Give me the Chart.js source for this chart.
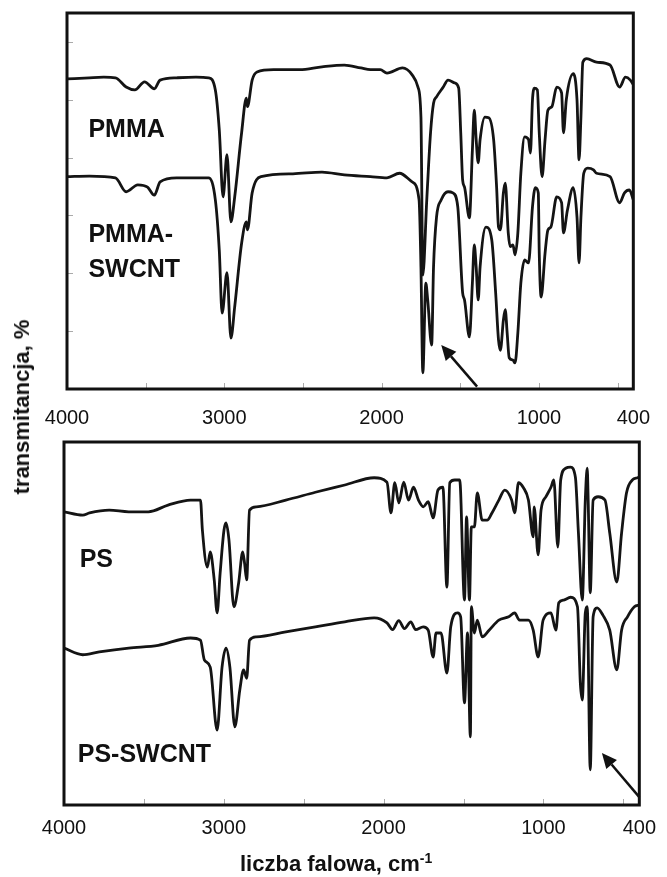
<!DOCTYPE html>
<html>
<head>
<meta charset="utf-8">
<script src="https://cdn.jsdelivr.net/npm/chart.js@4"></script>
<style>
  body { margin: 0; background: #fff; width: 667px; height: 877px; position: relative; overflow: hidden;
         font-family: "Liberation Sans", Arial, sans-serif; color: #111; }
  #top { position: absolute; left: 0; top: 0; }
  #bottom { position: absolute; left: 0; top: 436px; }
  #ytitle { position: absolute; left: 22px; top: 407px; transform: translate(-50%, -50%) rotate(-90deg);
            font-weight: bold; font-size: 22px; white-space: nowrap; }
  #xtitle { position: absolute; left: 240px; top: 850px; font-weight: bold; font-size: 22px; white-space: nowrap; }
  #xtitle sup { font-size: 14px; }
</style>
</head>
<body>
<canvas id="top" width="667" height="436"></canvas>
<canvas id="bottom" width="667" height="441"></canvas>
<div id="ytitle">transmitancja, %</div>
<div id="xtitle">liczba falowa, cm<sup>-1</sup></div>
<script>
// x axis: wavenumber, cm-1 (reversed)
const xLabels = [4000, 3000, 2000, 1000, 400];
const xMinor = [3500, 3000, 2500, 2000, 1500, 1000, 500];
const yMinorTop = [10, 20, 30, 40, 50, 60];

// PMMA (top panel, upper trace)
const pmmaWn = [4000,3858,3766,3692,3624,3569,3507,3445,3408,3303,3180,3100,3057,3032,3008,2983,2958,2934,2890,2860,2853,2823,2792,2687,2521,2379,2237,2132,2071,2009,1966,1867,1806,1769,1750,1738,1713,1689,1670,1651,1608,1578,1534,1510,1497,1485,1473,1442,1423,1411,1399,1386,1374,1343,1319,1288,1269,1257,1245,1226,1214,1195,1183,1165,1152,1134,1115,1091,1066,1054,1041,1029,1010,998,980,961,943,918,887,856,844,826,782,758,745,733,721,696,634,548,487,450,419,400];
const pmmaT = [53.6,53.8,53.9,53.8,52.2,51.7,53.1,51.9,53.4,53.8,53.9,53.8,51.7,44.8,33.2,40.5,28.9,33.2,44.3,50.3,48.8,53.4,54.8,55.2,55.2,55.7,56.0,55.5,55.2,55.2,54.6,55.5,54.3,52.2,47.0,19.7,32.7,44.3,49.4,50.5,52.2,53.4,52.9,52.0,44.3,36.1,34.9,29.6,41.3,48.2,43.1,39.1,43.1,47.0,46.9,43.1,34.9,28.0,27.5,33.9,35.6,27.0,24.6,24.9,23.2,27.0,37.3,43.6,43.1,40.8,50.0,52.0,51.7,44.3,36.7,43.1,48.2,48.8,52.2,51.2,44.3,50.0,54.5,50.0,39.6,47.0,56.5,57.1,56.5,56.0,52.2,53.9,53.4,52.6];

// PMMA-SWCNT (top panel, lower trace)
const pmmaCntWn = [4000,3858,3692,3624,3550,3488,3445,3408,3303,3100,3057,3032,3014,2983,2958,2934,2890,2860,2853,2823,2767,2564,2379,2237,2071,1966,1886,1806,1762,1750,1738,1719,1707,1682,1670,1651,1621,1578,1547,1516,1485,1473,1442,1423,1411,1399,1386,1374,1337,1300,1275,1257,1245,1226,1214,1202,1189,1165,1152,1134,1115,1091,1066,1041,1023,1004,998,986,961,943,924,887,856,844,819,782,758,745,733,715,690,653,634,548,487,456,425,400];
const pmmaCntT = [36.7,36.8,36.5,34.1,35.3,34.9,33.5,35.8,36.5,36.5,32.7,24.0,13.1,20.1,8.8,14.2,25.2,28.9,27.5,33.9,36.7,37.2,37.5,37.0,36.7,36.5,37.3,35.8,32.7,21.1,2.8,18.3,15.4,7.6,21.1,29.7,32.7,34.1,33.9,31.5,16.6,15.4,9.0,18.3,24.9,21.1,15.4,21.1,28.0,25.8,16.6,8.5,6.7,11.9,13.7,9.7,5.4,5.0,4.5,9.7,18.3,22.3,21.8,31.5,34.8,33.9,23.5,15.9,23.5,27.5,28.0,33.2,32.2,27.0,30.9,34.8,29.7,21.8,29.7,37.3,38.2,37.9,37.3,36.7,32.2,33.9,34.4,32.7];

// PS (bottom panel, upper trace)
const psWn = [4000,3883,3840,3717,3595,3472,3349,3208,3146,3134,3103,3085,3060,3042,3023,2999,2986,2968,2937,2907,2882,2870,2857,2839,2796,2612,2427,2243,2059,1979,1954,1930,1905,1874,1844,1813,1782,1752,1721,1690,1660,1629,1604,1586,1555,1524,1494,1481,1463,1451,1432,1414,1383,1352,1322,1279,1242,1199,1180,1156,1125,1094,1064,1058,1033,1015,984,953,935,910,892,861,830,800,781,757,738,726,720,707,689,658,615,585,541,511,480,443,412,400];
const psT = [52.5,51.9,52.3,52.8,52.5,52.5,53.7,54.6,54.6,49.2,42.6,45.3,40.3,34.4,41.5,49.2,50.5,47.5,35.5,39.8,45.3,43.3,40.3,52.8,53.4,54.6,56.0,57.3,58.6,57.8,52.3,57.7,54.1,57.8,54.6,56.9,54.6,53.4,54.3,51.4,56.4,56.9,39.0,57.7,58.2,58.2,36.7,51.6,36.7,49.8,49.8,55.9,51.0,51.0,52.3,54.6,56.4,54.6,52.3,57.7,56.8,54.6,48.0,53.4,44.8,52.8,55.2,56.9,58.2,46.2,58.2,60.3,60.5,58.7,48.7,36.7,54.6,60.3,54.6,38.0,54.6,55.2,54.6,48.7,39.9,48.7,55.9,58.2,58.6,58.7];

// PS-SWCNT (bottom panel, lower trace)
const psCntWn = [4000,3883,3779,3595,3410,3208,3146,3122,3085,3042,3011,2986,2962,2931,2900,2876,2857,2839,2796,2612,2427,2243,2059,1979,1944,1905,1870,1830,1800,1752,1721,1690,1672,1641,1604,1580,1537,1518,1494,1475,1457,1451,1432,1414,1383,1340,1279,1217,1180,1150,1094,1064,1033,1002,953,922,904,873,830,787,769,757,738,726,707,689,664,628,585,541,511,474,431,400];
const psCntT = [28.1,26.9,27.4,28.1,28.6,29.9,29.5,26.0,24.7,13.4,24.7,28.1,24.7,14.0,20.6,24.2,22.7,29.5,30.1,31.0,31.9,32.8,33.5,32.6,31.4,33.0,31.6,32.8,31.4,31.9,31.3,26.5,30.8,30.8,23.6,31.9,34.4,33.7,18.3,30.8,12.2,35.5,30.8,33.1,30.1,31.3,33.1,33.7,34.4,33.1,33.1,31.3,26.5,33.1,34.4,31.3,36.2,36.7,37.2,35.5,21.8,18.8,34.4,35.5,6.3,33.7,35.3,34.0,31.3,24.2,31.3,33.7,35.5,35.8];

// annotations in data units (wavenumber, transmittance)
const topLabels = [
  { text: 'PMMA', wn: 3864, t: 44.8 },
  { text: 'PMMA-', wn: 3864, t: 26.6 },
  { text: 'SWCNT', wn: 3864, t: 20.6 }
];
const bottomLabels = [
  { text: 'PS', wn: 3902, t: 43.9 },
  { text: 'PS-SWCNT', wn: 3914, t: 9.0 }
];
const topArrow = { from: [1393, 0.4], to: [1621, 7.6] };
const bottomArrow = { from: [400, 1.4], to: [634, 9.3] };

const FONT = '"Liberation Sans", Arial, sans-serif';

function pts(wn, t) {
  const n = Math.min(wn.length, t.length);
  const out = [];
  for (let i = 0; i < n; i++) out.push({ x: wn[i], y: t[i] });
  return out;
}

function arrow(ctx, x1, y1, x2, y2) {
  const ang = Math.atan2(y2 - y1, x2 - x1);
  const hl = 15, hw = 7;
  const bx = x2 - hl * Math.cos(ang), by = y2 - hl * Math.sin(ang);
  ctx.beginPath();
  ctx.moveTo(x1, y1);
  ctx.lineTo(bx, by);
  ctx.stroke();
  ctx.beginPath();
  ctx.moveTo(x2, y2);
  ctx.lineTo(bx + hw * Math.sin(ang), by - hw * Math.cos(ang));
  ctx.lineTo(bx - hw * Math.sin(ang), by + hw * Math.cos(ang));
  ctx.closePath();
  ctx.fill();
}

const panelDecor = {
  id: 'panelDecor',
  afterDatasetsDraw(chart, args, o) {
    const { ctx, chartArea: a, scales: { x, y } } = chart;
    ctx.save();
    ctx.strokeStyle = '#aaa';
    ctx.lineWidth = 1;
    o.minorX.forEach(v => {
      const px = Math.round(x.getPixelForValue(v)) + 0.5;
      ctx.beginPath(); ctx.moveTo(px, a.bottom); ctx.lineTo(px, a.bottom - 6); ctx.stroke();
    });
    o.minorY.forEach(v => {
      const py = Math.round(y.getPixelForValue(v)) + 0.5;
      ctx.beginPath(); ctx.moveTo(a.left, py); ctx.lineTo(a.left + 6, py); ctx.stroke();
    });
    ctx.strokeStyle = '#111';
    ctx.lineWidth = 3;
    ctx.strokeRect(a.left, a.top, a.right - a.left, a.bottom - a.top);
    ctx.fillStyle = '#111';
    ctx.font = 'bold 25px ' + FONT;
    ctx.textAlign = 'left';
    ctx.textBaseline = 'middle';
    o.labels.forEach(l => ctx.fillText(l.text, x.getPixelForValue(l.wn), y.getPixelForValue(l.t)));
    ctx.lineWidth = 2.5;
    const ar = o.arrow;
    arrow(ctx, x.getPixelForValue(ar.from[0]), y.getPixelForValue(ar.from[1]),
               x.getPixelForValue(ar.to[0]), y.getPixelForValue(ar.to[1]));
    ctx.restore();
  }
};

function panel(id, series, pad, tickPad, deco) {
  return new Chart(document.getElementById(id), {
    type: 'line',
    data: {
      datasets: series.map(s => ({
        data: pts(s[0], s[1]),
        borderColor: '#141414',
        borderWidth: 2.8,
        pointRadius: 0,
        cubicInterpolationMode: 'monotone',
        fill: false
      }))
    },
    options: {
      responsive: false,
      animation: false,
      events: [],
      layout: { padding: pad },
      plugins: { legend: { display: false }, tooltip: { enabled: false }, panelDecor: deco },
      scales: {
        x: {
          type: 'linear', reverse: true, min: 400, max: 4000,
          grid: { display: false, drawTicks: false },
          border: { display: false },
          afterBuildTicks: s => { s.ticks = xLabels.map(v => ({ value: v })); },
          afterFit: s => { s.height = 40; },
          ticks: {
            color: '#111', padding: tickPad, maxRotation: 0, autoSkip: false,
            font: { size: 20, family: FONT },
            callback: v => String(v)
          }
        },
        y: { type: 'linear', min: 0, max: 65, display: false }
      }
    },
    plugins: [panelDecor]
  });
}

panel('top', [[pmmaWn, pmmaT], [pmmaCntWn, pmmaCntT]],
  { left: 67, right: 16, top: 13, bottom: 7 }, 17,
  { minorX: xMinor, minorY: yMinorTop, labels: topLabels, arrow: topArrow });

panel('bottom', [[psWn, psT], [psCntWn, psCntT]],
  { left: 64, right: 17, top: 6, bottom: 32 }, 11,
  { minorX: xMinor, minorY: [], labels: bottomLabels, arrow: bottomArrow });
</script>
</body>
</html>
